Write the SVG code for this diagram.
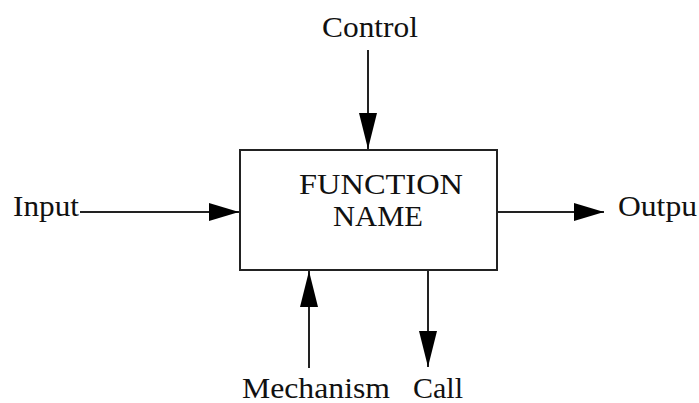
<svg xmlns="http://www.w3.org/2000/svg" width="699" height="403" viewBox="0 0 699 403">
<style>
text{font-family:"Liberation Serif","Times New Roman",serif;font-size:30px;fill:#111}
.ln{stroke:#222;stroke-width:2;fill:none}
.box{stroke:#222;stroke-width:2;fill:#fff}
</style>
<defs>
<marker id="ah" markerUnits="userSpaceOnUse" markerWidth="36" markerHeight="18" refX="36" refY="9" orient="auto"><path d="M0,0 L36,9 L0,18 Z" fill="#000"/></marker>
<marker id="ahs" markerUnits="userSpaceOnUse" markerWidth="30" markerHeight="18" refX="30" refY="9" orient="auto"><path d="M0,0 L30,9 L0,18 Z" fill="#000"/></marker>
</defs>
<g id="function">
<rect class="box" x="240" y="150" width="257" height="120"/>
<text x="299" y="194" textLength="164" lengthAdjust="spacingAndGlyphs">FUNCTION</text>
<text x="333" y="226" textLength="90" lengthAdjust="spacingAndGlyphs">NAME</text>
</g>
<g id="control"><text x="322" y="37" textLength="96" lengthAdjust="spacingAndGlyphs">Control</text></g>
<g id="input"><text x="13" y="216" textLength="66" lengthAdjust="spacingAndGlyphs">Input</text></g>
<g id="output"><text x="618" y="216" textLength="79" lengthAdjust="spacingAndGlyphs">Outpu</text></g>
<g id="mechanism"><text x="242" y="398" textLength="148" lengthAdjust="spacingAndGlyphs">Mechanism</text></g>
<g id="call"><text x="413" y="398" textLength="50" lengthAdjust="spacingAndGlyphs">Call</text></g>
<g id="connectors">
<line class="ln" x1="368" y1="50" x2="368" y2="149" marker-end="url(#ah)"/>
<line class="ln" x1="80" y1="212" x2="239" y2="212" marker-end="url(#ahs)"/>
<line class="ln" x1="497" y1="212" x2="604" y2="212" marker-end="url(#ahs)"/>
<line class="ln" x1="309" y1="368" x2="309" y2="271" marker-end="url(#ah)"/>
<line class="ln" x1="428" y1="270" x2="428" y2="367" marker-end="url(#ah)"/>
</g>
</svg>
